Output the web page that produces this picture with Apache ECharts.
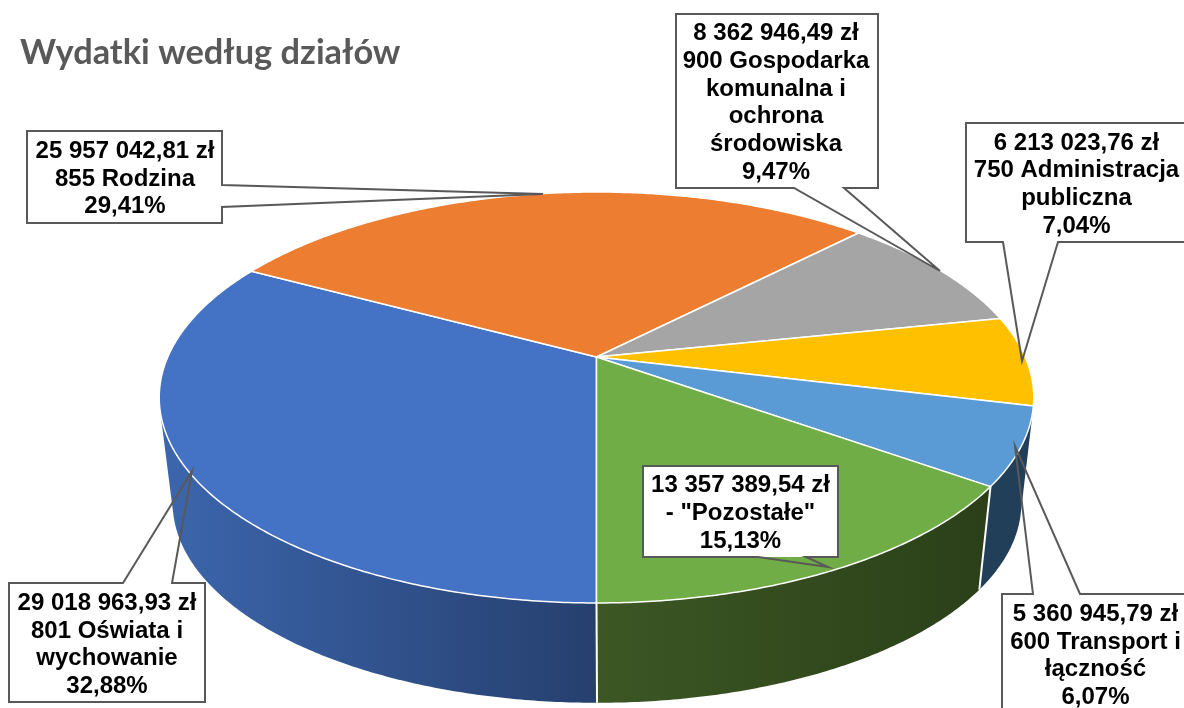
<!DOCTYPE html>
<html>
<head>
<meta charset="utf-8">
<style>html,body{margin:0;padding:0;background:#fff}#c{width:1184px;height:708px}</style>
<script src="https://cdn.jsdelivr.net/npm/echarts@6/dist/echarts.min.js"></script>
</head>
<body>
<div id="c"></div>
<script>
// ---- data ----
const chartTitle = 'Wydatki według działów';
const categories = ['801 Oświata i\nwychowanie', '855 Rodzina', '900 Gospodarka\nkomunalna i\nochrona\nśrodowiska', '750 Administracja\npubliczna', '600 Transport i\nłączność', '- "Pozostałe"'];
const values = [29018963.93, 25957042.81, 8362946.49, 6213023.76, 5360945.79, 13357389.54];

// ---- styles / layout ----
const topColors = ['#4472C4', '#ED7D31', '#A5A5A5', '#FFC000', '#5B9BD5', '#70AD47'];
const sideColors = [['#3C66AD', '#263F6E'], ['#8E4B1D', '#8E4B1D'], ['#636363', '#636363'], ['#997300', '#997300'], ['#223F59', '#223F59'], ['#3C5724', '#2B4019']];
const sideGradientX = [[160, 597], null, null, null, null, [597, 980]];
// projection of the pie disc: apex, radii, perspective
const topDisc = {cx: 596.5, cy: 357, a: 428.7, b: 197.5, p: 0.197};
const bottomDisc = {cx: 597, cy: 463.7, a: 416, b: 192, p: 0.197};
const startAngle = 180;
// callout layout: box [x0,y0,x1,y1], wedge [base1, tip, base2], text centre
const boxes = [[9, 583, 205, 702], [27, 131, 222, 223], [676, 14, 878, 188], [966, 123, 1192, 242], [1002, 594, 1192, 716], [643, 466, 838, 557]];
const wedges = [[[123, 583], [192, 471], [172, 583]], [[222, 185], [543, 194], [222, 207]], [[794, 188], [940, 271], [844, 188]], [[1003, 242], [1022, 361], [1058, 242]], [[1033, 594], [1015, 446], [1080, 594]], [[758, 557], [828, 567], [806, 557]]];
const textCentres = [[107, 645], [125, 179], [776, 103], [1076.5, 184.5], [1095.5, 656], [740.5, 513.5]];

// ---- helpers ----
const total = values.reduce((s, v) => s + v, 0);
function formatMoney(v) {
  const parts = v.toFixed(2).split('.');
  return parts[0].replace(/\B(?=(\d{3})+(?!\d))/g, ' ') + ',' + parts[1] + ' zł';
}
function formatPercent(v) { return (v / total * 100).toFixed(2).replace('.', ',') + '%'; }
function project(d, deg) {
  const t = deg * Math.PI / 180, u = Math.sin(t), v = -Math.cos(t), w = 1 - d.p * v;
  return [d.cx + d.a * u / w, d.cy + d.b * v / w];
}
function sliceAngles(i) {
  let s = startAngle;
  for (let k = 0; k < i; k++) s += values[k] / total * 360;
  return [s, s + values[i] / total * 360];
}
function arc(d, a0, a1) {
  const n = Math.max(2, Math.ceil(Math.abs(a1 - a0) * 2)), pts = [];
  for (let j = 0; j <= n; j++) pts.push(project(d, a0 + (a1 - a0) * j / n));
  return pts;
}
// a side wall is visible when the rim runs clockwise-on-screen relative to its drop
function facesViewer(deg) {
  const p = project(topDisc, deg), q = project(topDisc, deg + 0.5), r = project(bottomDisc, deg);
  return (q[0] - p[0]) * (r[1] - p[1]) - (q[1] - p[1]) * (r[0] - p[0]) < 0;
}
function renderSide(params, api) {
  const i = params.dataIndex, [a0, a1] = sliceAngles(i);
  const n = Math.ceil((a1 - a0) * 2), top = [], bot = [];
  for (let j = 0; j <= n; j++) {
    const a = a0 + (a1 - a0) * j / n;
    if (facesViewer(a)) { top.push(project(topDisc, a)); bot.unshift(project(bottomDisc, a)); }
  }
  const children = [];
  if (top.length > 1) {
    const c = sideColors[i], g = sideGradientX[i];
    const fill = g ? new echarts.graphic.LinearGradient(g[0], 0, g[1], 0, [{offset: 0, color: c[0]}, {offset: 1, color: c[1]}], true) : c[0];
    children.push({type: 'polygon', shape: {points: top.concat(bot)}, style: {fill: fill}});
  }
  return {type: 'group', children: children};
}
function renderSeam(params, api) {
  const i = params.dataIndex, a0 = sliceAngles(i)[0];
  if (!(facesViewer(a0 - 1) && facesViewer(a0 + 1))) return {type: 'group', children: []};
  const p = project(topDisc, a0), q = project(bottomDisc, a0);
  return {type: 'line', shape: {x1: p[0], y1: p[1], x2: q[0], y2: q[1]}, style: {stroke: '#fff', lineWidth: 2}};
}
function renderTop(params, api) {
  const i = params.dataIndex, [a0, a1] = sliceAngles(i);
  const pts = [[topDisc.cx, topDisc.cy]].concat(arc(topDisc, a0, a1));
  return {type: 'polygon', shape: {points: pts}, style: {fill: topColors[i], stroke: '#fff', lineWidth: 1.5, lineJoin: 'round'}};
}
function outline(box, w) {
  // walk the box perimeter, inserting the wedge on the edge it leaves from
  const [x0, y0, x1, y1] = box, b = w[0], e = w[2];
  if (b[1] === y0) return [[x0, y0], b, w[1], e, [x1, y0], [x1, y1], [x0, y1]];
  if (b[1] === y1) return [[x1, y0], [x1, y1], e, w[1], b, [x0, y1], [x0, y0]];
  return [[x0, y0], [x1, y0], b, w[1], e, [x1, y1], [x0, y1]];
}
function renderCallout(params, api) {
  const i = params.dataIndex, box = boxes[i];
  return {type: 'group', children: [
    {type: 'rect', shape: {x: box[0], y: box[1], width: box[2] - box[0], height: box[3] - box[1]}, style: {fill: '#fff'}},
    {type: 'polygon', shape: {points: outline(box, wedges[i])}, style: {fill: 'none', stroke: '#595959', lineWidth: 2, lineJoin: 'miter'}},
    {type: 'text', style: {
      text: formatMoney(api.value(0)) + '\n' + categories[i] + '\n' + formatPercent(api.value(0)),
      x: textCentres[i][0], y: textCentres[i][1], align: 'center', verticalAlign: 'middle',
      fontFamily: '"Liberation Sans"', fontWeight: 'bold', fontSize: 24, lineHeight: 27.7, fill: '#000'}}
  ]};
}

const chart = echarts.init(document.getElementById('c'), null, {width: 1184, height: 708});
chart.setOption({
  animation: false,
  backgroundColor: '#fff',
  title: {text: chartTitle, left: 15, top: 31, textStyle: {fontFamily: 'Lato', fontWeight: 'bold', fontSize: 34.4, color: '#595959'}},
  series: [
    {type: 'custom', coordinateSystem: 'none', z: 1, silent: true, data: values, renderItem: renderSide},
    {type: 'custom', coordinateSystem: 'none', z: 2, silent: true, data: values, renderItem: renderSeam},
    {type: 'custom', coordinateSystem: 'none', z: 3, silent: true, data: values, renderItem: renderTop},
    {type: 'custom', coordinateSystem: 'none', z: 4, silent: true, data: values, renderItem: renderCallout}
  ]
});
</script>
</body>
</html>
